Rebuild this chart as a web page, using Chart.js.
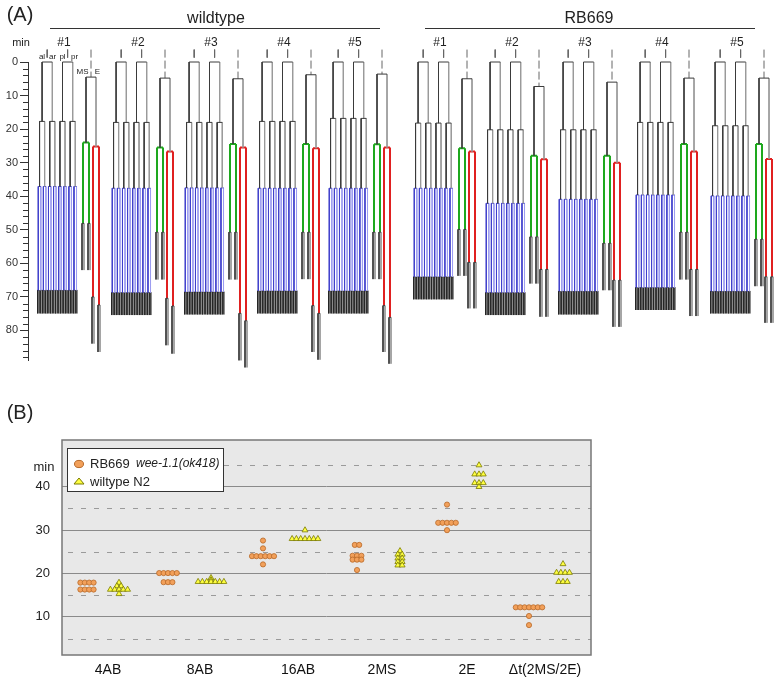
<!DOCTYPE html>
<html>
<head>
<meta charset="utf-8">
<script src="https://cdn.jsdelivr.net/npm/chart.js@4.4.1/dist/chart.umd.min.js"></script>
<style>
  body { margin: 0; background: #fff; font-family: "Liberation Sans", Arial, sans-serif; }
  #wrap { position: relative; width: 777px; height: 681px; overflow: hidden; }
  canvas { position: absolute; left: 0; }
  .t { position: absolute; white-space: nowrap; color: #222; line-height: 1; transform: translate(-50%, -50%); }
  .l { transform: translate(0, -50%); }
  .rule { position: absolute; height: 0; border-top: 1px solid #333; }
  #legend { position: absolute; left: 67px; top: 448px; width: 155px; height: 42px; border: 1px solid #333; background: #fff; }
</style>
</head>
<body>
<div id="wrap">
  <canvas id="treeChart" width="777" height="385" style="top:0"></canvas>
  <canvas id="dotChart" width="777" height="291" style="top:390px"></canvas>
  <div id="legend"></div>
</div>
<script>
// ---- panel A: division times (min) for each embryo, wildtype #1-#5 then RB669 #1-#5
const embryoNames = ['#1', '#2', '#3', '#4', '#5', '#1', '#2', '#3', '#4', '#5'];
const ab8   = [17.7, 18.0, 18.0, 17.7, 16.8, 18.2, 20.2, 20.2, 18.0, 19.0];
const ab16  = [37.1, 37.6, 37.5, 37.6, 37.6, 37.6, 42.1, 40.9, 39.6, 39.9];
const ab32  = [68.0, 68.7, 68.5, 68.2, 68.2, 64.0, 68.7, 68.3, 67.2, 68.3];
const abEnd = [74.9, 75.4, 75.2, 74.9, 74.9, 70.7, 75.4, 75.2, 73.9, 74.9];
const emsDiv = [4.5, 4.8, 5.0, 3.8, 3.6, 5.0, 7.3, 6.0, 4.8, 4.8];
const msDiv  = [24.0, 25.5, 24.4, 24.4, 24.5, 25.7, 27.9, 27.9, 24.4, 24.4];
const msxDiv = [48.1, 50.7, 50.7, 50.7, 50.7, 49.9, 52.1, 54.0, 50.7, 52.8];
const msEnd  = [62.0, 64.8, 64.8, 64.7, 64.7, 63.7, 66.0, 68.0, 64.8, 66.8];
const eDiv   = [25.2, 26.7, 25.5, 25.7, 25.5, 26.7, 29.0, 30.0, 26.7, 28.9];
const eaDiv  = [70.0, 70.4, 74.9, 72.6, 72.6, 59.7, 61.8, 65.0, 61.8, 64.0];
const epDiv  = [72.4, 72.7, 77.1, 74.9, 76.1, 59.7, 61.8, 65.0, 61.8, 64.0];
const eaEnd  = [83.9, 84.4, 88.9, 86.4, 86.4, 73.4, 75.9, 78.9, 75.7, 77.7];
const epEnd  = [86.4, 86.9, 91.0, 88.7, 89.9, 73.4, 75.9, 78.9, 75.7, 77.7];

// ---- panel B: onset times (min)
const categories = ['4AB', '8AB', '16AB', '2MS', '2E', 'Δt(2MS/2E)'];
const rb669 = [
  [17.9, 17.9, 17.9, 17.9, 16.3, 16.3, 16.3, 16.3],
  [20.1, 20.1, 20.1, 20.1, 20.1, 18.0, 18.0, 18.0],
  [27.6, 25.8, 24.0, 24.0, 24.0, 24.0, 24.0, 24.0, 22.1],
  [26.6, 26.6, 24.1, 24.1, 24.1, 23.2, 23.2, 23.2, 20.8],
  [35.9, 31.7, 31.7, 31.7, 31.7, 31.7, 30.0],
  [12.2, 12.2, 12.2, 12.2, 12.2, 12.2, 12.2, 10.2, 8.1]
];
const wiltypeN2 = [
  [17.9, 17.1, 17.1, 16.3, 16.3, 16.3, 16.3, 16.3, 15.3],
  [19.0, 18.5, 18.1, 18.1, 18.1, 18.1, 18.1, 18.1, 18.1],
  [30.0, 28.0, 28.0, 28.0, 28.0, 28.0, 28.0, 28.0],
  [25.2, 24.4, 24.4, 23.5, 23.5, 22.7, 22.7, 21.9, 21.9],
  [45.0, 42.9, 42.9, 42.9, 40.9, 40.9, 40.9, 40.0],
  [22.2, 20.2, 20.2, 20.2, 20.2, 18.1, 18.1, 18.1]
];

// ---- layout
const abLeft = [37, 111, 184, 257, 328, 413, 485, 558, 635, 710];
const abWidth = 40.8;
const catX = [108, 200, 298, 382, 467, 545];
const rbX = [87, 168, 263, 357, 447, 529];
const wtX = [119, 211, 305, 400, 479, 563];

Chart.defaults.font.family = '"Liberation Sans", Arial, sans-serif';

const wrap = document.getElementById('wrap');
function text(str, x, y, size, cls, style) {
  const d = document.createElement('div');
  d.className = 't ' + (cls || '');
  d.style.left = x + 'px';
  d.style.top = y + 'px';
  d.style.fontSize = size + 'px';
  if (style) d.style.cssText += style;
  d.textContent = str;
  wrap.appendChild(d);
  return d;
}
function rule(x1, x2, y) {
  const d = document.createElement('div');
  d.className = 'rule';
  d.style.left = x1 + 'px';
  d.style.width = (x2 - x1) + 'px';
  d.style.top = y + 'px';
  wrap.appendChild(d);
}

text('(A)', 20, 14, 20);
text('wildtype', 216, 18, 16);
text('RB669', 589, 18, 16);
rule(50, 380, 28);
rule(425, 755, 28);
text('min', 21, 42, 11);
embryoNames.forEach((n, i) => text(n, abLeft[i] + 27, 42, 12));
text('al', 42, 57, 8); text('ar', 52.5, 57, 8); text('pl', 62.5, 57, 8); text('pr', 74.5, 57, 8);
text('MS', 82.5, 72, 8); text('E', 97.5, 72, 8);
text('(B)', 20, 412, 20);
text('min', 44, 466, 13);

// legend
const lg = document.getElementById('legend');
lg.innerHTML =
  '<svg width="20" height="40" style="position:absolute;left:4px;top:6px">' +
  '<ellipse cx="7" cy="9" rx="4.5" ry="3.6" fill="#f2a05a" stroke="#b86a2a"/>' +
  '<polygon points="2,29 7,23 12,29" fill="#ffff40" stroke="#7a7a00"/></svg>';
text('RB669', 90, 463, 13, 'l');
text('wee-1.1(ok418)', 136, 463, 12, 'l', 'font-style:italic;');
text('wiltype N2', 90, 481, 13, 'l');

// ---- build tree segments
const styles = {
  dark:   { c: '#3a3a3a', w: 1 },
  light:  { c: '#9a9a9a', w: 1 },
  blue:   { c: '#4040cc', w: 1 },
  blueLt: { c: '#9c9cf0', w: 1 },
  dk32:   { c: '#262626', w: 1 },
  lt32:   { c: '#8a8a8a', w: 1 },
  green:  { c: '#1ea81e', w: 2 },
  red:    { c: '#e02020', w: 2 },
  tick:   { c: '#666', w: 1 },
  dash:   { c: '#666', w: 1, dash: [8, 3] }
};
const segs = {};
Object.keys(styles).forEach(k => (segs[k] = []));
function seg(k, x1, y1, x2, y2) {
  segs[k].push({ x: x1, y: y1 }, { x: x2, y: y2 }, { x: x2, y: null });
}
function abX(L, n, k) {
  const w = abWidth / n;
  return L + w * k + w / 2;
}

abLeft.forEach((L, i) => {
  // AB lineage
  for (let k = 0; k < 2; k++) seg('tick', abX(L, 2, k), -3.7, abX(L, 2, k), -1.3);
  const stages = [
    [4, 0, ab8[i], 'dark', 'light'],
    [8, ab8[i], ab16[i], 'dark', 'light'],
    [16, ab16[i], ab32[i], 'blue', 'blueLt'],
    [32, ab32[i], abEnd[i], 'dk32', 'lt32']
  ];
  stages.forEach(([n, t0, t1, a, b]) => {
    for (let k = 0; k < n; k += 2) seg(a, abX(L, n, k), t0, abX(L, n, k + 1), t0);
    for (let k = 0; k < n; k++) {
      const x = abX(L, n, k);
      seg(k % 2 ? b : a, x, t0, x, t1);
    }
  });
  // EMS -> MS / E
  seg('dash', L + 54, -3.7, L + 54, emsDiv[i]);
  seg('dark', L + 49, emsDiv[i], L + 59, emsDiv[i]);
  seg('dark', L + 49, emsDiv[i], L + 49, msDiv[i]);
  seg('light', L + 59, emsDiv[i], L + 59, eDiv[i]);
  seg('green', L + 46, msDiv[i], L + 52, msDiv[i]);
  seg('green', L + 46, msDiv[i], L + 46, msxDiv[i]);
  seg('green', L + 52, msDiv[i], L + 52, msxDiv[i]);
  [L + 46, L + 52].forEach(d => {
    seg('dark', d - 1, msxDiv[i], d + 1, msxDiv[i]);
    seg('dark', d - 1, msxDiv[i], d - 1, msEnd[i]);
    seg('light', d + 1, msxDiv[i], d + 1, msEnd[i]);
  });
  seg('red', L + 56, eDiv[i], L + 62, eDiv[i]);
  seg('red', L + 56, eDiv[i], L + 56, eaDiv[i]);
  seg('red', L + 62, eDiv[i], L + 62, epDiv[i]);
  [[L + 56, eaDiv[i], eaEnd[i]], [L + 62, epDiv[i], epEnd[i]]].forEach(([d, t0, t1]) => {
    seg('dark', d - 1, t0, d + 1, t0);
    seg('dark', d - 1, t0, d - 1, t1);
    seg('light', d + 1, t0, d + 1, t1);
  });
});

const treeSets = Object.keys(styles).map(k => ({
  data: segs[k],
  borderColor: styles[k].c,
  borderWidth: styles[k].w,
  borderDash: styles[k].dash || [],
  borderCapStyle: 'butt',
  pointRadius: 0,
  spanGaps: false,
  clip: false
}));

const minorTicks = {
  id: 'minorTicks',
  afterDraw(chart) {
    const ctx = chart.ctx, y = chart.scales.y, x0 = chart.chartArea.left;
    ctx.save();
    ctx.strokeStyle = '#333';
    ctx.lineWidth = 1;
    for (let v = 2; v <= 88; v += 2) {
      if (v % 10 === 0) continue;
      const py = Math.round(y.getPixelForValue(v)) + 0.5;
      ctx.beginPath(); ctx.moveTo(x0 - 5, py); ctx.lineTo(x0, py); ctx.stroke();
    }
    ctx.restore();
  }
};

new Chart(document.getElementById('treeChart'), {
  type: 'line',
  data: { datasets: treeSets },
  options: {
    responsive: false,
    animation: false,
    devicePixelRatio: 1,
    layout: { padding: { top: 62, bottom: 25, left: 0, right: 0 } },
    plugins: { legend: { display: false }, tooltip: { enabled: false } },
    elements: { line: { tension: 0 } },
    scales: {
      x: { type: 'linear', min: 28, max: 777, display: false },
      y: {
        type: 'linear', reverse: true, min: 0, max: 88.8,
        afterFit: s => { s.width = 28; },
        afterBuildTicks: s => { s.ticks = [0, 10, 20, 30, 40, 50, 60, 70, 80].map(v => ({ value: v })); },
        ticks: { font: { size: 11 }, color: '#333', padding: 2 },
        grid: { drawOnChartArea: false, tickLength: 8, color: '#333' },
        border: { color: '#333' }
      }
    }
  },
  plugins: [minorTicks]
});

// ---- panel B
function swarm(values, cx, step) {
  const rows = new Map();
  values.forEach(v => rows.set(v, (rows.get(v) || 0) + 1));
  const pts = [];
  rows.forEach((n, v) => {
    for (let j = 0; j < n; j++) pts.push({ x: cx + (j - (n - 1) / 2) * step, y: v });
  });
  return pts;
}

const plotFrame = {
  id: 'plotFrame',
  beforeDraw(chart) {
    const a = chart.chartArea, ctx = chart.ctx;
    ctx.save();
    ctx.fillStyle = '#e8e8e8';
    ctx.fillRect(a.left, a.top, a.width, a.height);
    ctx.restore();
  },
  beforeDatasetsDraw(chart) {
    const a = chart.chartArea, ctx = chart.ctx, y = chart.scales.y;
    ctx.save();
    ctx.strokeStyle = '#9a9a9a';
    ctx.setLineDash([5, 8]);
    [5, 15, 25, 35, 45].forEach(v => {
      const py = Math.round(y.getPixelForValue(v)) + 0.5;
      ctx.beginPath(); ctx.moveTo(a.left + 6, py); ctx.lineTo(a.right, py); ctx.stroke();
    });
    ctx.restore();
  },
  afterDraw(chart) {
    const a = chart.chartArea, ctx = chart.ctx;
    ctx.save();
    ctx.strokeStyle = '#777';
    ctx.lineWidth = 1.5;
    ctx.strokeRect(a.left, a.top, a.width, a.height);
    ctx.restore();
  }
};

new Chart(document.getElementById('dotChart'), {
  type: 'scatter',
  data: {
    datasets: [
      {
        label: 'RB669 wee-1.1(ok418)',
        data: rb669.flatMap((vals, i) => swarm(vals, rbX[i], 4.4)),
        pointStyle: 'circle', pointRadius: 2.6,
        backgroundColor: '#f2a05a', borderColor: '#b86a2a', borderWidth: 0.8
      },
      {
        label: 'wiltype N2',
        data: wiltypeN2.flatMap((vals, i) => swarm(vals, wtX[i], 4.3)),
        pointStyle: 'triangle', pointRadius: 3.4,
        backgroundColor: '#ffff40', borderColor: '#7a7a00', borderWidth: 0.8
      }
    ]
  },
  options: {
    responsive: false,
    animation: false,
    devicePixelRatio: 1,
    layout: { padding: { top: 50, right: 186, left: 0, bottom: 0 } },
    plugins: { legend: { display: false }, tooltip: { enabled: false } },
    scales: {
      x: {
        type: 'linear', min: 62, max: 591,
        afterFit: s => { s.height = 26; },
        afterBuildTicks: s => { s.ticks = catX.map(v => ({ value: v })); },
        ticks: { callback: (v, i) => categories[i], font: { size: 14 }, color: '#111', padding: 7, autoSkip: false, maxRotation: 0 },
        grid: { display: false, drawTicks: false },
        border: { display: false }
      },
      y: {
        min: 1.2, max: 50.8,
        afterFit: s => { s.width = 62; },
        afterBuildTicks: s => { s.ticks = [10, 20, 30, 40].map(v => ({ value: v })); },
        ticks: { font: { size: 13 }, color: '#222', padding: 12 },
        grid: { color: '#8a8a8a', drawTicks: false },
        border: { display: false }
      }
    }
  },
  plugins: [plotFrame]
});
</script>
</body>
</html>
